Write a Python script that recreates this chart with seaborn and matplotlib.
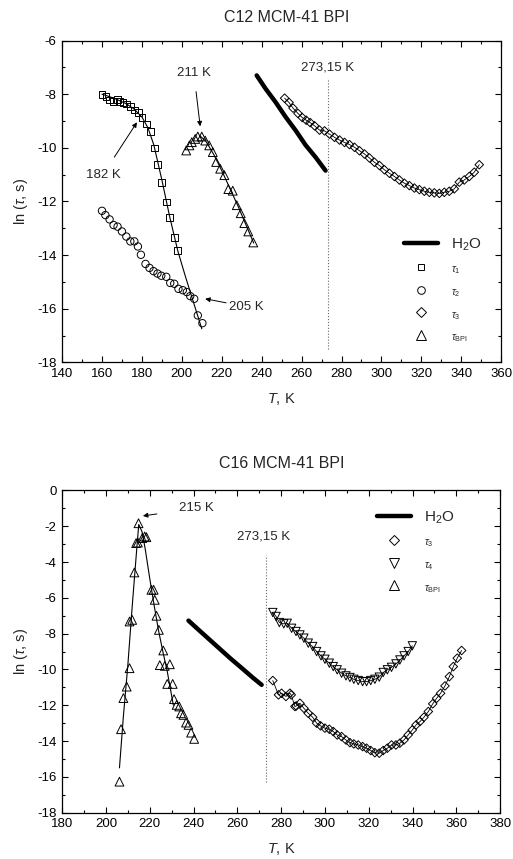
import matplotlib
matplotlib.use('Agg')
import matplotlib.pyplot as plt
from matplotlib.lines import Line2D
from matplotlib.ticker import MultipleLocator
import seaborn as sns

sns.set_theme(style='ticks')
plt.rcParams['font.family'] = ['Liberation Sans', 'DejaVu Sans']
plt.rcParams['mathtext.fontset'] = 'custom'
plt.rcParams['mathtext.rm'] = 'Liberation Sans'
plt.rcParams['mathtext.it'] = 'Liberation Sans:italic'
plt.rcParams['axes.unicode_minus'] = False

# ─────────────────────────────────────────────
# C12 MCM-41 BPI (top)
# ─────────────────────────────────────────────
c12_t1_T = [160, 162, 163.8, 165.8, 167.8, 168.8, 170.5, 172.2, 174.2, 176.2, 178.3,
            180, 182.2, 184.2, 186.3, 188, 190, 192.2, 193.8, 196.2, 198]
c12_t1 = [-8.02, -8.1, -8.22, -8.27, -8.2, -8.27, -8.31, -8.37, -8.47, -8.59, -8.68,
          -8.86, -9.11, -9.4, -10.01, -10.63, -11.28, -12.02, -12.59, -13.35, -13.83]
c12_t1_fit_T = [160, 166, 172, 176, 180, 183, 186, 190, 194, 198, 202, 206, 210]
c12_t1_fit = [-8.0, -8.15, -8.35, -8.55, -8.85, -9.25, -9.9, -11.2, -12.6, -13.85, -14.85, -15.8, -16.75]

c12_t2_T = [160, 161.7, 163.8, 165.8, 167.8, 170, 172.2, 174.2, 176.2, 178, 179.5, 181.8,
            183.8, 185.8, 187.8, 189.7, 192.2, 194.2, 196.2, 198.3, 200.5, 202.5, 204.2,
            206.2, 208, 210.3]
c12_t2 = [-12.35, -12.51, -12.67, -12.88, -12.94, -13.12, -13.31, -13.49, -13.49, -13.68,
          -13.99, -14.33, -14.48, -14.6, -14.69, -14.77, -14.81, -15.04, -15.07, -15.26,
          -15.31, -15.38, -15.53, -15.63, -16.25, -16.54]

c12_bpi_T = [202.2, 203.8, 205, 206.7, 208, 210, 211.7, 213.7, 215.5, 217.2, 219.2, 221.3,
             223.3, 225.5, 227.5, 229.5, 231.3, 233.3, 235.8]
c12_bpi = [-10.1, -9.91, -9.79, -9.67, -9.58, -9.58, -9.73, -9.91, -10.16, -10.53, -10.78,
           -11.02, -11.54, -11.6, -12.14, -12.44, -12.81, -13.12, -13.53]
c12_bpi_fit_T = [209, 212, 216, 220, 224, 228, 232, 236]
c12_bpi_fit = [-9.55, -9.75, -10.25, -10.85, -11.5, -12.15, -12.85, -13.55]

c12_h2o_T = [237.5, 242, 247, 252, 257, 262, 267, 272]
c12_h2o = [-7.3, -7.8, -8.3, -8.85, -9.35, -9.9, -10.35, -10.85]

c12_t3_T = [251.5, 253.7, 255.7, 258.2, 260.3, 262.3, 264.3, 266.5, 269, 271.5, 274,
            276.5, 279, 281.5, 284, 286.5, 289, 291.5, 294, 296.5, 299, 301.5, 304,
            306.5, 309, 311.5, 314, 316.5, 319, 321.5, 324, 326.5, 329, 331.5, 334,
            336.5, 339, 341.5, 344, 346.5, 349]
c12_t3 = [-8.15, -8.31, -8.52, -8.72, -8.87, -8.97, -9.06, -9.18, -9.34, -9.37, -9.49,
          -9.61, -9.71, -9.8, -9.88, -9.98, -10.11, -10.23, -10.38, -10.54, -10.66,
          -10.82, -10.95, -11.07, -11.2, -11.32, -11.41, -11.5, -11.56, -11.62, -11.66,
          -11.68, -11.7, -11.66, -11.62, -11.53, -11.28, -11.2, -11.07, -10.91, -10.63]

# ─────────────────────────────────────────────
# C16 MCM-41 BPI (bottom)
# ─────────────────────────────────────────────
c16_bpi_T = [206.2, 206.9, 208, 209.5, 210.8, 210.8, 212, 213, 213.8, 214.6, 214.9,
             216.6, 217.7, 218.5, 220.8, 221.8, 222.3, 223.1, 224.2, 226.2, 224.6,
             226.9, 229.2, 228, 230.5, 231.1, 232.3, 233.5, 234.3, 235.4, 236.6,
             237.7, 238.9, 240.3]
c16_bpi = [-16.27, -13.34, -11.6, -10.96, -9.93, -7.32, -7.23, -4.58, -2.94, -2.91,
           -1.83, -2.66, -2.57, -2.61, -5.55, -5.55, -6.11, -7.0, -7.79, -8.94, -9.76,
           -9.8, -9.71, -10.81, -10.81, -11.66, -11.98, -12.07, -12.45, -12.54, -12.97,
           -13.1, -13.53, -13.88]
c16_bpi_fit_T = [206.2, 208, 210, 212, 214, 215, 216.5, 218, 220, 222, 224, 226, 228, 230.8]
c16_bpi_fit = [-15.5, -12.6, -9.8, -6.5, -3.4, -1.9, -2.3, -3.3, -4.9, -6.4, -7.8, -9.0, -10.1, -12.0]

c16_h2o_T = [237.7, 242, 247, 252, 257, 262, 267, 271.1]
c16_h2o = [-7.27, -7.75, -8.3, -8.85, -9.4, -9.92, -10.45, -10.86]

c16_t4_T = [276.2, 277.7, 279.2, 281.2, 282.8, 284.8, 286.8, 288.6, 290.4, 292.4, 294.4,
            296.2, 298.2, 300, 302, 303.8, 305.6, 307.6, 309.6, 311.4, 313.2, 315.2,
            317.2, 319, 320.9, 322.8, 324.8, 326.6, 328.5, 330.4, 332.4, 334.2, 336.1,
            338, 339.9]
c16_t4 = [-6.82, -7.04, -7.38, -7.45, -7.42, -7.7, -7.88, -8.07, -8.25, -8.53, -8.72,
          -9.0, -9.24, -9.43, -9.65, -9.84, -10.02, -10.21, -10.36, -10.45, -10.55,
          -10.62, -10.68, -10.68, -10.62, -10.55, -10.43, -10.17, -10.02, -9.88, -9.69,
          -9.47, -9.24, -9.0, -8.68]

c16_t3_T = [276.2, 278.8, 280.2, 282.2, 284, 284.6, 286.3, 286.9, 288.6, 290.4, 292.4,
            294.4, 296.2, 298, 300, 302, 303.8, 305.6, 307.6, 309.6, 311.4, 313.2, 315.2,
            317.2, 319, 320.9, 322.8, 324.8, 326.6, 328.5, 330.4, 332.4, 334.2, 336.1,
            338, 339.9, 341.6, 343.4, 345.2, 347.2, 349.2, 351, 352.8, 354.8, 356.8,
            358.6, 360.4, 362.4]
c16_t3 = [-10.62, -11.42, -11.33, -11.51, -11.33, -11.42, -12.07, -12.04, -11.89, -12.17,
          -12.45, -12.67, -13.0, -13.15, -13.28, -13.34, -13.47, -13.66, -13.75, -13.94,
          -14.09, -14.16, -14.22, -14.31, -14.4, -14.53, -14.65, -14.68, -14.53, -14.4,
          -14.22, -14.22, -14.12, -13.94, -13.66, -13.38, -13.1, -12.91, -12.67, -12.35,
          -11.92, -11.61, -11.33, -10.92, -10.4, -9.84, -9.37, -8.94]

T_MELT = 273.15

BLACK = 'black'
FS = 9.5


def open_markers(ax, x, y, marker, size):
    sns.scatterplot(x=x, y=y, marker=marker, s=size, facecolors='none',
                    edgecolors=BLACK, linewidth=0.7, ax=ax, zorder=3)


def fit_line(ax, x, y, lw=0.8):
    sns.lineplot(x=x, y=y, sort=False, estimator=None, color=BLACK, lw=lw, ax=ax, zorder=2)


def arrow(ax, text, xy, xytext, shrink):
    ax.annotate(text, xy=xy, xytext=xytext, ha='center', va='center', fontsize=FS,
                arrowprops=dict(arrowstyle='-|>', color=BLACK, lw=0.7,
                                mutation_scale=7, shrinkA=shrink, shrinkB=0))


def style_axes(ax, xlim, ylim):
    ax.set_xlim(*xlim)
    ax.set_ylim(*ylim)
    ax.xaxis.set_major_locator(MultipleLocator(20))
    ax.xaxis.set_minor_locator(MultipleLocator(10))
    ax.yaxis.set_major_locator(MultipleLocator(2))
    ax.yaxis.set_minor_locator(MultipleLocator(1))
    ax.tick_params(which='both', direction='in', top=True, right=True,
                   labelsize=FS, width=0.8, colors=BLACK, pad=4)
    ax.tick_params(which='major', length=4)
    ax.tick_params(which='minor', length=2.5)
    for s in ax.spines.values():
        s.set_linewidth(0.9)
        s.set_color(BLACK)
    ax.set_xlabel(r'$T$, K', fontsize=10.5, labelpad=8)
    ax.set_ylabel(r'ln ($\tau$, s)', fontsize=10.5, labelpad=5)


def make_legend(ax, handles, labels, anchor):
    leg = ax.legend(handles, labels, loc='upper left', bbox_to_anchor=anchor,
                    frameon=False, handlelength=2.2, handletextpad=0.9,
                    labelspacing=0.55, borderaxespad=0)
    for i, t in enumerate(leg.get_texts()):
        t.set_fontsize(11 if i == 0 else 7.5)
    return leg


def h(marker, ms):
    return Line2D([], [], marker=marker, ls='none', mfc='none', mec=BLACK, ms=ms, mew=0.7)


fig = plt.figure(figsize=(5.13, 8.59), dpi=100)

# ── top panel ──
ax1 = fig.add_axes([0.121, 0.5782, 0.856, 0.3746])
fit_line(ax1, c12_t1_fit_T, c12_t1_fit)
fit_line(ax1, c12_bpi_fit_T, c12_bpi_fit)
fit_line(ax1, c12_t3_T, c12_t3, lw=0.6)
sns.lineplot(x=c12_h2o_T, y=c12_h2o, estimator=None, color=BLACK, lw=3.2, ax=ax1)
open_markers(ax1, c12_t1_T, c12_t1, 's', 24)
open_markers(ax1, c12_t2_T, c12_t2, 'o', 28)
open_markers(ax1, c12_t3_T, c12_t3, 'D', 19)
open_markers(ax1, c12_bpi_T, c12_bpi, '^', 40)
ax1.vlines(T_MELT, -17.5, -7.4, colors='0.4', linestyles=':', lw=0.8)
ax1.text(T_MELT, -7.0, '273,15 K', ha='center', va='center', fontsize=FS)
arrow(ax1, '211 K', (209.2, -9.2), (206, -7.2), 7)
arrow(ax1, '182 K', (177.5, -9.05), (160.5, -11.0), 7)
arrow(ax1, '205 K', (211.7, -15.63), (232.5, -15.93), 18)
style_axes(ax1, (140, 360), (-18, -6))
make_legend(ax1,
            [Line2D([], [], color=BLACK, lw=3.2), h('s', 5), h('o', 5.5), h('D', 5), h('^', 6.5)],
            [r'H$_2$O', r'$\tau_1$', r'$\tau_2$', r'$\tau_3$', r'$\tau_{\rm BPI}$'],
            (0.765, 0.41))
fig.text(0.558, 0.980, 'C12 MCM-41 BPI', ha='center', va='center', fontsize=11.5)

# ── bottom panel ──
ax2 = fig.add_axes([0.121, 0.054, 0.854, 0.375])
fit_line(ax2, c16_bpi_fit_T, c16_bpi_fit)
fit_line(ax2, c16_t4_T, c16_t4, lw=0.6)
fit_line(ax2, c16_t3_T, c16_t3, lw=0.6)
sns.lineplot(x=c16_h2o_T, y=c16_h2o, estimator=None, color=BLACK, lw=3.2, ax=ax2)
open_markers(ax2, c16_t3_T, c16_t3, 'D', 19)
open_markers(ax2, c16_t4_T, c16_t4, 'v', 36)
open_markers(ax2, c16_bpi_T, c16_bpi, '^', 40)
ax2.vlines(T_MELT, -16.3, -3.6, colors='0.4', linestyles=':', lw=0.8)
ax2.text(271.8, -2.55, '273,15 K', ha='center', va='center', fontsize=FS)
arrow(ax2, '215 K', (216.9, -1.42), (241.5, -1.0), 14)
style_axes(ax2, (180, 380), (-18, 0))
make_legend(ax2,
            [Line2D([], [], color=BLACK, lw=3.2), h('D', 5), h('v', 6.5), h('^', 6.5)],
            [r'H$_2$O', r'$\tau_3$', r'$\tau_4$', r'$\tau_{\rm BPI}$'],
            (0.705, 0.96))
fig.text(0.549, 0.460, 'C16 MCM-41 BPI', ha='center', va='center', fontsize=11.5)

plt.savefig('out.png', dpi=100)
